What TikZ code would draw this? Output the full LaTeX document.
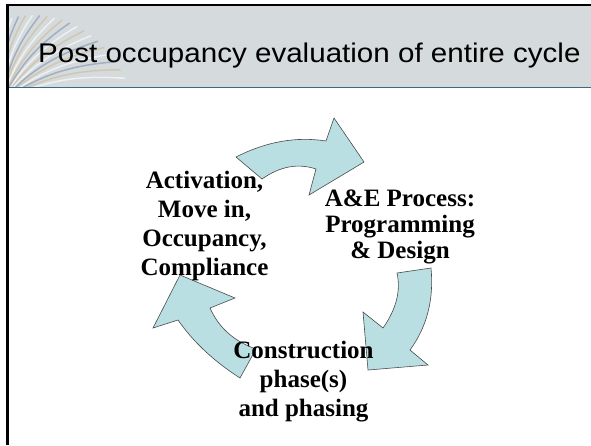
\documentclass[tikz,border=0pt]{standalone}
\usepackage{fontspec}
\setmainfont{Liberation Serif}
\newfontfamily\titlefont{Liberation Sans}
\definecolor{titlegray}{HTML}{D5DADD}
\definecolor{titleline}{HTML}{3A6A8A}
\definecolor{arrowfill}{HTML}{B9DFE3}
\definecolor{arrowline}{HTML}{4A4A4A}
\definecolor{pagetan}{HTML}{CDBB98}
\definecolor{pageblue}{HTML}{7F93AE}

\begin{document}
\begin{tikzpicture}[x=1pt,y=-1pt,
    cyclearrow/.style={fill=arrowfill,draw=arrowline,line width=.6pt},
    phaselabel/.style={align=center,inner sep=0,
      font=\bfseries\fontsize{25}{29}\selectfont}]
  \path[use as bounding box] (0,0) rectangle (591,445);
  \fill[white] (0,0) rectangle (591,445);
  % title bar with the book pages at its left end
  \fill[titlegray] (8,6) rectangle (591,87.5);
  \begin{scope}
    \clip (8,6) rectangle (591,87.5);
    \foreach \i/\c in {0/white,1/pagetan,2/pageblue,3/white,4/pagetan,
        5/pageblue,6/white,7/pagetan,8/white,9/pageblue,10/pagetan,
        11/white,12/pagetan,13/pageblue,14/white,15/pagetan,16/pageblue,
        17/white}{
      \draw[\c,line width=1.5pt,opacity=.6]
        (2,100) to[bend left=14] +(-10-4.3*\i:125-2.5*\i);
    }
  \end{scope}
  \draw[titleline,line width=1pt] (8,87.5) -- (591,87.5);
  \draw[black,line width=2.5pt] (7.5,445) -- (7.5,5) -- (591,5);
  \node[anchor=base west,inner sep=0,
    font=\titlefont\fontsize{27}{32}\selectfont]
    (title) at (38,62) {\scalebox{1.095}[1]{Post occupancy evaluation of entire cycle}};
  % the three arrows of the cycle
  \draw[cyclearrow] (236,157) .. controls (266,141.7) and (296,136.3) .. (326,141)
    -- (334,118) -- (364,162) -- (309,195) -- (316,169)
    .. controls (298,163) and (280,166.3) .. (262,179) -- cycle;
  \draw[cyclearrow] (431,268) .. controls (434,299.3) and (427,326.7) .. (410,350)
    -- (428,365) -- (368,370) -- (363,312) -- (383,328)
    .. controls (396.3,309) and (401,290.7) .. (397,273) -- cycle;
  \draw[cyclearrow] (240,378) .. controls (214,361.3) and (193.3,342) .. (178,320)
    -- (153,328) -- (180,275) -- (235,298) -- (210,308)
    .. controls (218.7,327.7) and (234,341.3) .. (256,349) -- cycle;
  % phases
  \node[phaselabel] (activation) at (204.5,225.5)
    {Activation,\\Move in,\\Occupancy,\\Compliance};
  \node[phaselabel,font=\bfseries\fontsize{25}{25.8}\selectfont]
    (design) at (400,227) {A\&E Process:\\Programming\\\& Design};
  \node[phaselabel] (construction) at (303.5,381.5)
    {Construction\\phase(s)\\and phasing};
\end{tikzpicture}
\end{document}
